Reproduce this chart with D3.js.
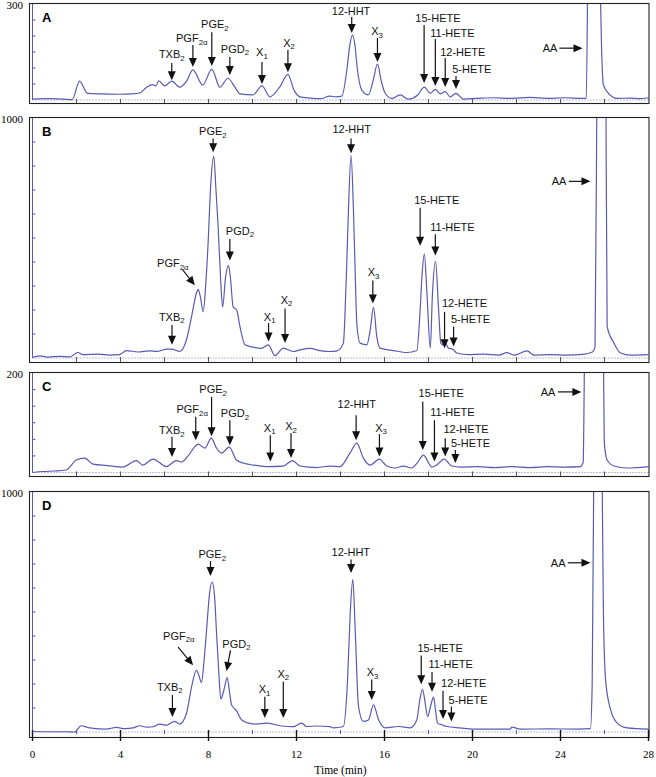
<!DOCTYPE html>
<html><head><meta charset="utf-8">
<script src="https://cdn.jsdelivr.net/npm/d3@7/dist/d3.min.js"></script>
<style>body{margin:0;background:#fff}</style>
</head><body>
<svg id="chart" width="656" height="777"></svg>
<script>
// ---------- DATA ----------
const panelNames = ['A', 'B', 'C', 'D'];
const yMaxLabels = ['300', '1000', '200', '1000'];
const yMaxValues = [300, 1000, 200, 1000];
const yTickIntervals = [6, 10, 6, 10];
const xTickLabels = [0, 4, 8, 12, 16, 20, 24, 28];
const xMinorTicks = [2, 6, 10, 14, 18, 22, 26];
const xAxisTitle = 'Time (min)';

// [time (min), signal]
const traceA = [[0,3],[0.8,4],[1.4,3],[1.8,1],[2.14,59],[2.5,21],[3.05,19],[3.96,18],[4.5,19],[4.87,22],[5.19,40],[5.46,48],[5.6,44],[5.74,60],[6.01,44],[6.33,59],[6.69,40],[7.01,60],[7.29,94],[7.74,47],[8.15,96],[8.52,40],[8.88,68],[9.2,40],[9.43,19],[10.02,16],[10.43,44],[10.79,10],[11.25,42],[11.61,80],[11.89,30],[12.16,10],[12.6,6],[13.07,4],[13.52,12],[13.8,10],[14.06,12],[14.3,100],[14.42,170],[14.54,203],[14.66,170],[14.76,100],[14.97,31],[15.27,16],[15.48,60],[15.68,112],[15.85,60],[16.03,21],[16.33,5],[16.71,16],[17.08,3],[17.5,15],[17.81,40],[18.08,21],[18.31,33],[18.53,19],[18.76,26],[18.99,10],[19.25,21],[19.58,3],[20.2,5],[21,7],[21.8,5],[22.6,8],[23.4,5],[24.2,7],[25.0,5],[25.17,6],[25.25,500],[25.5,3000],[25.78,500],[25.95,47],[26.25,16],[26.55,5],[27.2,6],[27.6,4],[28,7]];

const traceB = [[0,2],[0.32,9],[0.7,4],[1.23,7],[1.7,5],[2.06,23],[2.29,14],[3.0,16],[3.5,12],[3.96,14],[4.27,31],[4.8,25],[5.3,30],[5.7,28],[6.09,37],[6.32,37],[6.69,27],[7.0,76],[7.23,172],[7.45,270],[7.53,286],[7.62,260],[7.76,193],[7.87,300],[7.98,475],[8.1,720],[8.24,840],[8.34,700],[8.44,544],[8.55,330],[8.64,213],[8.78,340],[8.91,385],[9.0,330],[9.12,213],[9.28,200],[9.43,131],[9.66,55],[10.03,45],[10.4,40],[10.72,55],[11.02,10],[11.4,41],[11.85,27],[12.16,34],[12.61,40],[13.07,31],[13.52,27],[13.85,30],[14.13,62],[14.25,300],[14.36,612],[14.48,844],[14.59,612],[14.67,350],[14.74,145],[14.89,62],[15.2,55],[15.35,117],[15.5,211],[15.65,89],[15.8,41],[16.41,31],[17.02,23],[17.47,31],[17.62,200],[17.71,350],[17.81,434],[17.93,268],[18.08,41],[18.18,268],[18.32,403],[18.46,200],[18.56,62],[18.66,55],[18.76,62],[18.91,41],[19.09,37],[19.29,21],[19.8,14],[20.5,16],[21.2,12],[21.57,22],[21.9,12],[22.48,30],[22.8,12],[23.5,14],[24.3,12],[25.0,15],[25.45,25],[25.57,45],[25.66,1200],[25.9,5000],[26.06,1200],[26.12,131],[26.43,62],[26.73,21],[27.2,12],[28,14]];

const traceC = [[0,0],[0.47,2],[1.0,3],[1.53,5],[1.99,25],[2.37,29],[2.75,17],[3.4,14],[4.11,11],[4.72,24],[5.02,15],[5.48,27],[6.09,12],[6.54,24],[6.77,21],[7.1,35],[7.38,52],[7.53,57],[7.83,49],[8.13,69],[8.35,50],[8.59,39],[8.94,51],[9.27,25],[9.58,19],[10.03,15],[10.64,12],[11.4,13],[11.82,24],[12.16,13],[12.92,10],[13.52,13],[13.98,12],[14.43,39],[14.74,59],[15.04,29],[15.35,15],[15.77,27],[16.1,13],[16.48,9],[16.86,13],[17.24,9],[17.5,20],[17.77,35],[18.15,11],[18.37,15],[18.71,27],[19.06,13],[19.44,11],[20.2,12],[21,10],[21.8,12],[22.6,10],[23.4,12],[24.2,11],[24.9,12],[25.03,20],[25.12,400],[25.5,2000],[25.92,400],[25.99,60],[26.12,25],[26.43,13],[27.03,9],[28,12]];

const traceD = [[0,2],[0.8,1],[1.5,1],[1.91,0],[2.21,26],[2.6,17],[3.35,12],[3.81,19],[4.2,14],[4.57,17],[4.87,26],[5.2,20],[5.48,22],[5.78,33],[6.09,28],[6.46,44],[6.69,33],[7.0,78],[7.23,188],[7.45,257],[7.55,240],[7.68,206],[7.8,300],[7.91,422],[8.05,580],[8.17,625],[8.28,560],[8.36,422],[8.48,230],[8.56,137],[8.7,175],[8.85,227],[8.95,170],[9.05,113],[9.27,89],[9.5,51],[9.81,37],[10.19,33],[10.64,37],[11.25,26],[11.85,22],[12.23,37],[12.46,23],[12.92,25],[13.52,22],[13.68,17],[14.13,23],[14.32,216],[14.44,491],[14.56,636],[14.67,422],[14.82,106],[15.04,44],[15.27,50],[15.5,113],[15.73,51],[16.03,17],[16.64,23],[17.17,17],[17.47,51],[17.6,130],[17.73,178],[17.85,120],[17.96,64],[18.1,110],[18.23,145],[18.32,90],[18.41,37],[18.61,30],[18.83,23],[19.44,17],[20.04,12],[21.0,12],[21.71,12],[21.79,20],[22.17,12],[23.5,13],[24.8,12],[25.36,14],[25.44,200],[25.52,1200],[25.7,4000],[25.88,1200],[25.95,500],[26.05,216],[26.28,92],[26.58,37],[27.03,17],[28,12]];

// [label ("_" starts subscript), label time, label value, anchor, tail t, tail v, head t, head v]
const annotationsA = [
  ['TXB_2', 6.33, 131, 'middle', 6.33, 116, 6.33, 62],
  ['PGF_2α', 7.24, 181, 'middle', 7.29, 172, 7.29, 103],
  ['PGE_2', 8.29, 225, 'middle', 8.15, 212, 8.15, 106],
  ['PGD_2', 9.20, 147, 'middle', 8.97, 134, 8.97, 78],
  ['X_1', 10.43, 137, 'middle', 10.43, 119, 10.43, 50],
  ['X_2', 11.66, 166, 'middle', 11.61, 156, 11.61, 87],
  ['12-HHT', 14.48, 266, 'middle', 14.51, 259, 14.51, 209],
  ['X_3', 15.66, 203, 'middle', 15.68, 194, 15.68, 119],
  ['15-HETE', 17.40, 244, 'start', 17.80, 234, 17.80, 53],
  ['11-HETE', 18.08, 197, 'start', 18.31, 191, 18.31, 44],
  ['12-HETE', 18.53, 137, 'start', 18.76, 131, 18.76, 41],
  ['5-HETE', 19.08, 84, 'start', 19.25, 75, 19.25, 34],
  ['AA', 23.86, 150, 'end', 23.95, 162, 25.0, 162]
];
const annotationsB = [
  ['PGE_2', 8.20, 929, 'middle', 8.21, 915, 8.21, 857],
  ['PGD_2', 9.43, 513, 'middle', 8.97, 496, 8.97, 406],
  ['PGF_2α', 6.38, 378, 'middle', 6.82, 368, 7.38, 303],
  ['TXB_2', 6.33, 155, 'middle', 6.34, 138, 6.34, 55],
  ['X_1', 10.78, 155, 'middle', 10.73, 145, 10.73, 69],
  ['X_2', 11.55, 227, 'middle', 11.48, 206, 11.48, 62],
  ['12-HHT', 14.51, 936, 'middle', 14.48, 915, 14.48, 853],
  ['X_3', 15.50, 340, 'middle', 15.47, 323, 15.47, 227],
  ['15-HETE', 17.35, 640, 'start', 17.62, 626, 17.62, 468],
  ['11-HETE', 18.08, 530, 'start', 18.31, 516, 18.31, 427],
  ['12-HETE', 18.61, 213, 'start', 18.73, 192, 18.73, 41],
  ['5-HETE', 19.02, 145, 'start', 19.14, 131, 19.14, 48],
  ['AA', 24.27, 720, 'end', 24.38, 736, 25.36, 736]
];
const annotationsC = [
  ['TXB_2', 6.33, 77, 'middle', 6.34, 72, 6.34, 31],
  ['PGF_2α', 7.26, 119, 'middle', 7.42, 112, 7.42, 65],
  ['PGE_2', 8.21, 159, 'middle', 8.14, 152, 8.14, 73],
  ['PGD_2', 9.20, 111, 'middle', 8.97, 105, 8.97, 55],
  ['X_1', 10.78, 82, 'middle', 10.81, 75, 10.81, 22],
  ['X_2', 11.75, 85, 'middle', 11.75, 79, 11.75, 29],
  ['12-HHT', 14.74, 129, 'middle', 14.71, 115, 14.71, 65],
  ['X_3', 15.84, 82, 'middle', 15.77, 77, 15.77, 32],
  ['15-HETE', 17.55, 151, 'start', 17.74, 142, 17.74, 45],
  ['11-HETE', 18.08, 113, 'start', 18.27, 105, 18.27, 22],
  ['12-HETE', 18.68, 80, 'start', 18.76, 69, 18.76, 32],
  ['5-HETE', 19.02, 51, 'start', 19.22, 45, 19.22, 19],
  ['AA', 23.77, 154, 'end', 23.88, 162, 24.95, 162]
];
const annotationsD = [
  ['PGE_2', 8.17, 725, 'middle', 8.09, 712, 8.09, 650],
  ['PGF_2α', 6.65, 384, 'middle', 6.62, 354, 7.30, 278],
  ['PGD_2', 9.27, 351, 'middle', 9.00, 340, 8.82, 254],
  ['TXB_2', 6.24, 172, 'middle', 6.36, 154, 6.36, 62],
  ['X_1', 10.55, 161, 'middle', 10.56, 147, 10.56, 58],
  ['X_2', 11.40, 227, 'middle', 11.40, 209, 11.40, 58],
  ['12-HHT', 14.47, 732, 'middle', 14.48, 719, 14.48, 663],
  ['X_3', 15.46, 233, 'middle', 15.42, 219, 15.42, 133],
  ['15-HETE', 17.50, 333, 'start', 17.67, 319, 17.67, 199],
  ['11-HETE', 18.00, 268, 'start', 18.16, 250, 18.16, 168],
  ['12-HETE', 18.57, 188, 'start', 18.66, 172, 18.66, 54],
  ['5-HETE', 18.91, 117, 'start', 19.04, 106, 19.04, 44],
  ['AA', 24.23, 688, 'end', 24.33, 705, 25.36, 705]
];

// ---------- LAYOUT ----------
const traces = [traceA, traceB, traceC, traceD];
const annotations = [annotationsA, annotationsB, annotationsC, annotationsD];
const layout = [
  {top: 3, bottom: 103, base: 100},
  {top: 117, bottom: 362, base: 358},
  {top: 372, bottom: 476, base: 472.5},
  {top: 491, bottom: 737, base: 732}
];
const frameLeft = 29.5, frameRight = 649;
const traceColor = '#5a5ab4';
const sansFont = 'Arial, "Liberation Sans", sans-serif';
const serifFont = '"Times New Roman", "Liberation Serif", serif';

const svg = d3.select('#chart');
const x = d3.scaleLinear().domain([0, 28]).range([32.5, 648.5]);

panelNames.forEach((name, i) => {
  const L = layout[i];
  const y = d3.scaleLinear().domain([0, yMaxValues[i]]).range([L.base, L.top + 1]);
  const g = svg.append('g');

  g.append('clipPath').attr('id', 'clip' + i)
    .append('rect').attr('x', frameLeft).attr('y', L.top)
    .attr('width', frameRight - frameLeft).attr('height', L.bottom - L.top);

  // dotted baseline
  g.append('line').attr('x1', x(0)).attr('x2', x(28)).attr('y1', y(0)).attr('y2', y(0))
    .attr('stroke', '#7a7ac8').attr('stroke-width', 1).attr('stroke-dasharray', '1,2');

  // blue y axis with ticks
  g.append('line').attr('x1', x(0)).attr('x2', x(0)).attr('y1', y(0)).attr('y2', L.top)
    .attr('stroke', traceColor).attr('stroke-width', 1);
  const step = yMaxValues[i] / yTickIntervals[i];
  const yTicks = d3.range(1, yTickIntervals[i]).map(k => k * step);
  g.selectAll('.yt').data(yTicks).join('line')
    .attr('x1', x(0)).attr('x2', x(0) + 3)
    .attr('y1', d => y(d)).attr('y2', d => y(d))
    .attr('stroke', traceColor).attr('stroke-width', 1);

  // bottom ticks
  if (i < 3) {
    const evenTicks = d3.range(2, 28, 2);
    g.selectAll('.bt').data(evenTicks).join('line')
      .attr('x1', d => x(d)).attr('x2', d => x(d))
      .attr('y1', y(0) - 1).attr('y2', L.bottom)
      .attr('stroke', '#555').attr('stroke-width', 1);
  } else {
    g.selectAll('.mt').data(xMinorTicks).join('line')
      .attr('x1', d => x(d)).attr('x2', d => x(d))
      .attr('y1', y(0) - 2).attr('y2', y(0) + 2)
      .attr('stroke', traceColor).attr('stroke-width', 1);
  }

  // trace
  const line = d3.line().x(d => x(d[0])).y(d => y(d[1])).curve(d3.curveMonotoneX);
  g.append('path').datum(traces[i]).attr('d', line)
    .attr('fill', 'none').attr('stroke', traceColor).attr('stroke-width', 1.2)
    .attr('clip-path', 'url(#clip' + i + ')');

  // frame
  g.append('rect').attr('x', frameLeft).attr('y', L.top + 0.5)
    .attr('width', frameRight - frameLeft).attr('height', L.bottom - L.top)
    .attr('fill', 'none').attr('stroke', '#222').attr('stroke-width', 1.1);

  // y max label
  g.append('text').attr('x', 23).attr('y', L.top + 6)
    .attr('text-anchor', 'end').attr('font-family', serifFont).attr('font-size', 11)
    .text(yMaxLabels[i]);

  // panel letter
  g.append('text').attr('x', 42).attr('y', L.top + 19)
    .attr('font-family', sansFont).attr('font-weight', 'bold').attr('font-size', 13)
    .text(name);

  // annotations
  annotations[i].forEach(a => {
    const [label, lt, lv, anchor, t1, v1, t2, v2] = a;
    const parts = label.split('_');
    const txt = g.append('text').attr('x', x(lt)).attr('y', y(lv))
      .attr('text-anchor', anchor).attr('font-family', sansFont).attr('font-size', 11)
      .attr('fill', '#111');
    txt.append('tspan').text(parts[0]);
    if (parts[1]) {
      txt.append('tspan').attr('font-size', 7.8).attr('dy', 2.5).text(parts[1]);
    }
    const x1 = x(t1), y1 = y(v1), x2 = x(t2), y2 = y(v2);
    const dx = x2 - x1, dy = y2 - y1, len = Math.hypot(dx, dy);
    const ux = dx / len, uy = dy / len;
    const hl = 9, hw = 4;
    const bx = x2 - ux * hl, by = y2 - uy * hl;
    g.append('line').attr('x1', x1).attr('y1', y1).attr('x2', bx + ux).attr('y2', by + uy)
      .attr('stroke', '#111').attr('stroke-width', 1.2);
    g.append('path')
      .attr('d', `M${x2},${y2}L${bx - uy * hw},${by + ux * hw}L${bx + uy * hw},${by - ux * hw}Z`)
      .attr('fill', '#111');
  });

  // bottom axis for last panel
  if (i === 3) {
    g.selectAll('.xt').data(xTickLabels).join('line')
      .attr('x1', d => x(d)).attr('x2', d => x(d))
      .attr('y1', y(0) - 2).attr('y2', L.bottom + 4)
      .attr('stroke', '#111').attr('stroke-width', 1.4);
    g.selectAll('.xl').data(xTickLabels).join('text')
      .attr('x', d => x(d)).attr('y', L.bottom + 21)
      .attr('text-anchor', 'middle').attr('font-family', serifFont).attr('font-size', 11)
      .text(d => d);
    g.append('text').attr('x', x(14)).attr('y', L.bottom + 37)
      .attr('text-anchor', 'middle').attr('font-family', serifFont).attr('font-size', 11.5)
      .text(xAxisTitle);
  }
});
</script>
</body></html>
